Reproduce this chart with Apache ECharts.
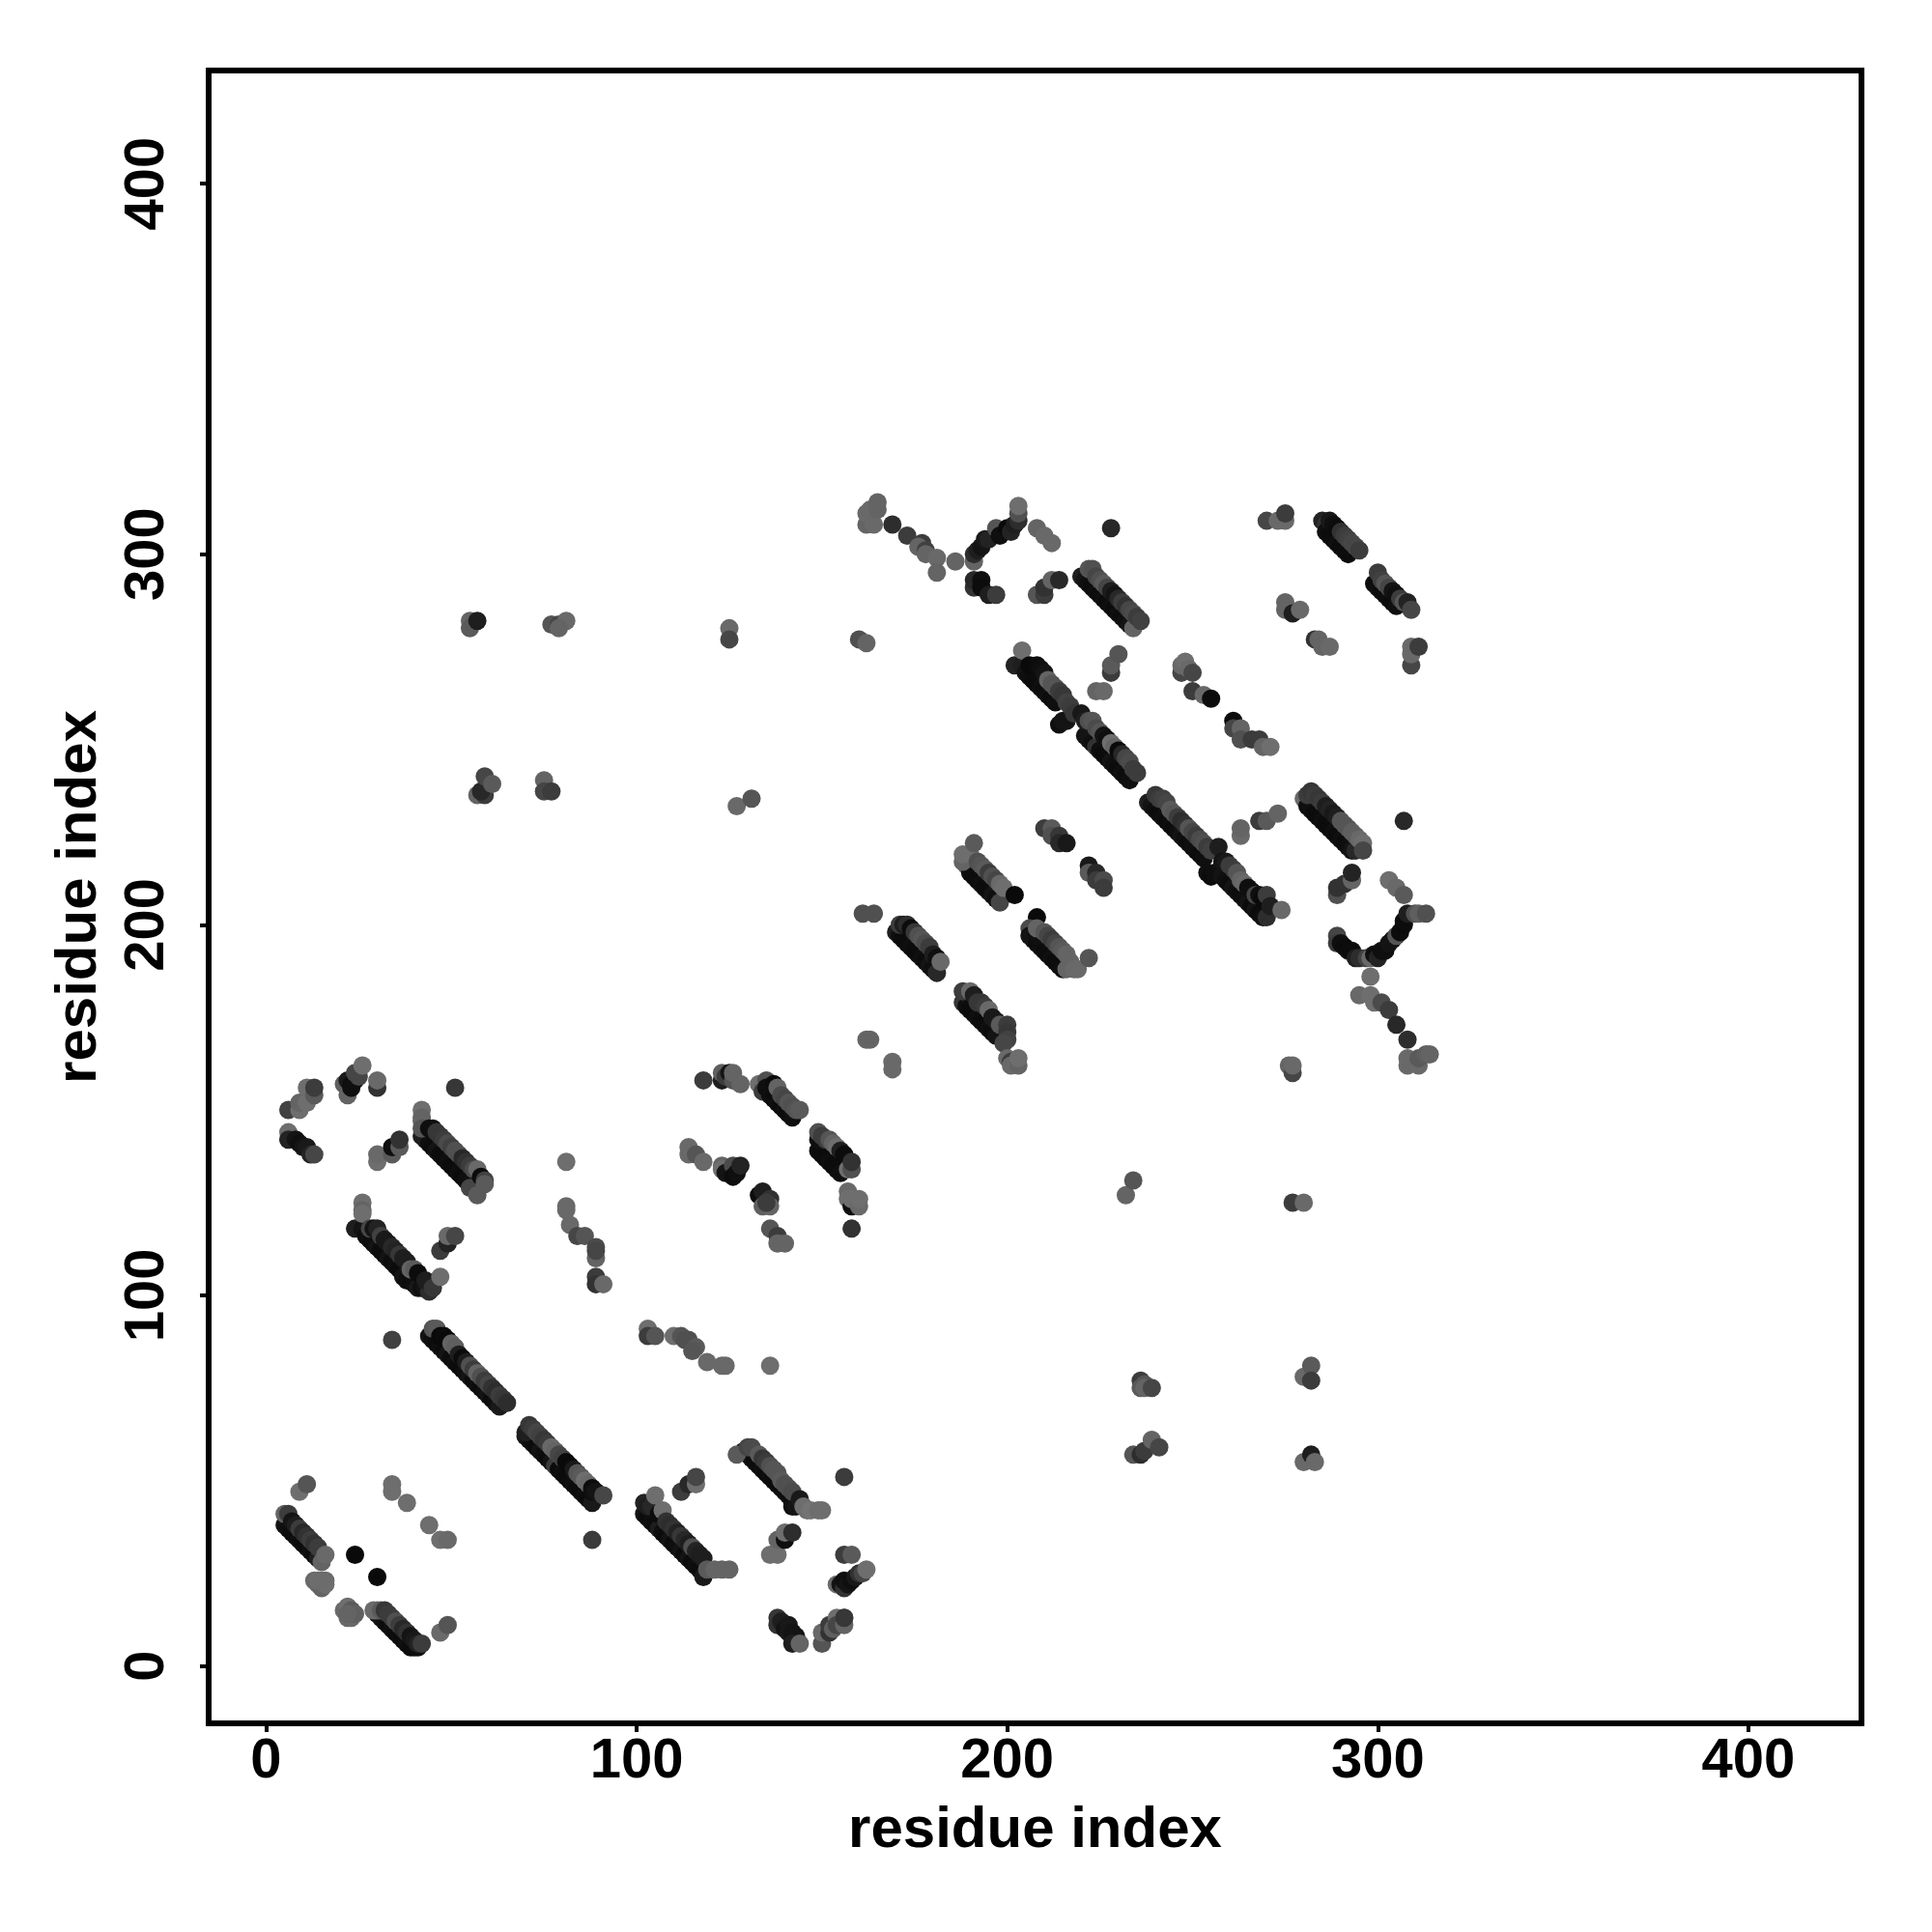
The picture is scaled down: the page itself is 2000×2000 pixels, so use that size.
<!DOCTYPE html>
<html>
<head>
<meta charset="utf-8">
<style>html,body{margin:0;padding:0;background:#fff}#c{width:2000px;height:2000px}</style>
<script src="https://cdn.jsdelivr.net/npm/echarts@6/dist/echarts.min.js"></script>
</head>
<body>
<div id="c"></div>
<script>
const tickValues = [0, 100, 200, 300, 400];
const axisTitle = "residue index";
// each contact: [residue i, residue j, grey level]
const bandA = [[5,38,20],[6,37,15],[7,36,12],[8,35,12],[9,34,15],[10,33,12],[11,32,12],[12,31,15],[13,30,12],[14,29,30],[5,41,100],[6,41,60],[7,39,20],[8,38,30],[9,37,60],[10,36,40],[11,35,50],[12,34,60],[13,33,50],[14,32,60],[15,28,100],[16,30,105]];
const blobA = [[9,47,110],[11,49,85],[13,23,105],[14,22,105],[15,21,100],[14,23,110],[16,23,105],[16,22,110],[15,23,108],[21,15,105],[22,16,110],[22,13,105],[23,13,105],[23,15,90],[24,14,95],[22,14,100],[24,30,10],[30,24,10]];
const bandB = [[30,14,15],[31,13,20],[32,12,15],[33,11,12],[34,10,15],[35,9,12],[36,8,12],[37,7,12],[38,6,15],[39,5,12],[40,5,12],[41,5,15],[29,15,105],[30,15,105],[31,15,90],[32,15,55],[33,14,60],[34,13,60],[35,12,80],[36,11,60],[37,10,40],[38,9,50],[39,8,20],[40,7,25],[41,6,35],[42,6,60],[47,9,105],[49,11,85]];
const dotsA = [[34,49,110],[34,47,110],[38,44,110],[44,38,110],[47,34,110],[49,34,105],[34,88,65]];
const bandC = [[44,89,20],[45,88,15],[46,87,12],[47,86,15],[48,85,12],[49,84,20],[50,83,12],[51,82,15],[52,81,12],[53,80,12],[54,79,15],[55,78,20],[56,77,12],[57,76,15],[58,75,12],[59,74,15],[60,73,20],[61,72,12],[62,71,15],[63,70,25],[45,91,85],[46,91,90],[47,89,10],[48,89,12],[49,88,10],[50,87,100],[51,86,95],[52,84,30],[53,83,12],[54,82,30],[55,81,80],[56,80,60],[57,79,100],[58,78,80],[59,77,60],[60,76,70],[61,75,50],[62,74,45],[63,73,60],[64,72,55],[65,71,45]];
const bandD = [[70,62,25],[71,61,20],[72,60,15],[73,59,12],[74,58,20],[75,57,15],[76,56,12],[77,55,20],[78,54,60],[79,53,12],[80,52,15],[81,51,12],[82,50,12],[83,49,15],[84,48,12],[85,47,12],[86,46,15],[87,45,12],[88,44,25],[70,63,30],[71,65,55],[72,64,60],[73,63,70],[74,62,65],[75,61,55],[76,60,60],[77,59,105],[78,58,100],[79,57,70],[80,56,65],[81,55,10],[82,54,10],[83,53,25],[84,52,85],[85,51,90],[86,50,110],[87,49,105],[88,48,12],[88,47,15],[89,47,20],[91,46,70],[88,34,60]];
const bandE = [[102,41,20],[103,40,12],[104,39,15],[105,38,12],[106,37,30],[107,36,15],[108,35,12],[109,34,20],[110,33,12],[111,32,15],[112,31,20],[113,30,12],[114,29,20],[115,28,12],[116,27,15],[117,26,12],[118,24,25],[102,44,35],[103,43,30],[104,43,40],[105,46,110],[106,41,12],[107,42,110],[108,39,50],[109,38,45],[110,37,50],[111,36,35],[112,35,55],[113,34,40],[114,33,30],[115,32,80],[116,31,35],[117,30,30],[118,29,30],[119,26,90],[121,26,100],[123,26,100],[125,26,100]];
const dotsE = [[112,47,60],[114,49,40],[116,49,110],[116,51,70],[103,91,110],[103,89,60],[105,89,85],[110,89,110],[112,89,85],[113,88,80],[114,88,80],[116,86,90],[115,85,85],[119,82,105],[123,81,105],[124,81,105],[136,81,110]];
const bandF = [[129,58,20],[130,57,12],[131,56,15],[132,55,12],[133,54,12],[134,53,15],[135,52,12],[136,51,15],[137,50,12],[138,49,12],[139,48,12],[140,47,15],[141,46,12],[142,44,12],[142,43,15],[143,43,20],[127,57,90],[130,59,70],[131,59,75],[133,57,90],[134,56,55],[135,55,60],[136,54,80],[137,53,85],[138,52,85],[139,50,90],[140,49,80],[141,48,80],[142,47,75],[144,45,25],[145,43,110],[146,42,110],[147,42,115],[149,42,110],[150,42,110],[156,51,60]];
const dotsG = [[136,30,110],[138,30,110],[138,34,100],[140,34,15],[140,36,110],[142,36,45],[138,13,55],[138,11,50],[139,12,30],[140,10,20],[141,11,25],[141,9,25],[142,9,20],[143,8,20],[142,6,30],[144,6,100],[150,6,85],[150,9,105],[152,9,50],[152,11,60],[153,10,95],[154,13,110],[154,11,70],[156,13,110],[156,11,100],[156,13,55]];
const bandH = [[154,22,105],[155,22,20],[156,21,50],[156,23,15],[157,22,20],[158,23,15],[159,24,25],[160,25,50],[161,25,70],[156,30,60],[158,30,90],[162,26,110]];
const clusterI = [[6,150,65],[9,150,110],[9,152,100],[11,152,110],[11,156,110],[13,154,90],[13,156,60],[6,144,110],[6,142,35],[8,142,20],[9,141,15],[10,140,20],[11,140,25],[12,138,35],[13,138,70],[30,136,110],[30,138,105],[34,138,90],[34,140,15],[36,140,90],[36,142,50]];
const clusterJ = [[21,157,95],[22,154,100],[22,158,25],[23,157,15],[24,158,12],[23,156,15],[24,160,70],[25,159,70],[26,162,110],[30,156,50],[30,158,105],[51,156,55]];
const bandK = [[42,143,30],[43,142,30],[44,141,15],[45,140,12],[46,139,20],[47,138,12],[48,137,12],[49,136,15],[50,135,12],[51,134,12],[52,133,15],[53,132,12],[54,131,15],[55,129,70],[42,150,110],[42,148,100],[42,147,100],[42,145,85],[44,145,15],[45,145,15],[46,144,55],[47,143,55],[48,142,60],[49,141,75],[50,140,65],[51,139,80],[52,138,80],[53,137,40],[54,136,50],[55,135,60],[56,134,75],[57,134,105],[57,127,90],[58,132,12],[59,131,65],[59,130,90]];
const bandL = [[24,118,30],[26,118,20],[27,116,15],[28,115,15],[29,114,15],[30,113,20],[31,112,12],[32,111,12],[33,110,20],[34,109,12],[35,108,15],[36,107,12],[37,105,20],[38,104,15],[39,104,12],[40,103,15],[41,102,25],[42,102,15],[43,102,20],[44,101,45],[26,125,110],[26,123,100],[26,122,110],[28,118,70],[29,118,20],[30,118,35],[31,116,65],[32,115,25],[33,114,25],[34,113,40],[35,112,35],[36,111,55],[37,110,30],[38,109,30],[39,107,100],[40,107,90],[41,106,12],[43,104,30],[45,102,55],[47,105,110],[47,112,60],[49,114,35],[49,116,105],[51,116,70]];
const dotsM = [[81,136,110],[81,124,105],[81,123,105],[82,119,105],[84,116,70],[86,116,85],[89,113,75],[89,110,100],[89,112,70],[89,105,60],[89,103,50],[91,103,105]];
const clusterN = [[118,158,60],[123,158,30],[123,160,95],[124,159,60],[125,160,20],[126,158,85],[126,160,100],[128,157,100],[133,157,110],[134,155,60],[135,158,80],[135,156,15],[136,154,15],[137,153,12],[137,157,12],[138,152,15],[138,156,100],[139,151,12],[140,150,15],[139,154,75],[141,149,12],[142,148,15],[140,153,70],[141,152,85],[142,151,80],[143,150,85],[144,150,90]];
const clusterO = [[149,139,12],[150,138,12],[151,137,12],[152,136,15],[153,135,12],[154,134,12],[155,133,15],[149,142,15],[149,144,80],[150,143,60],[151,142,60],[152,142,85],[153,141,100],[154,140,110],[155,139,30],[156,138,12],[157,134,110],[158,134,80],[158,136,50],[157,128,105],[157,126,110],[158,124,15],[158,126,110],[160,124,105],[160,126,110],[158,118,50]];
const clusterP = [[114,138,105],[114,140,105],[116,138,85],[118,136,105],[123,135,100],[123,134,110],[124,133,20],[126,135,75],[126,132,12],[127,133,15],[128,135,35],[133,127,12],[134,128,30],[136,126,50],[134,124,95],[136,124,100],[135,125,60],[136,118,85],[138,116,60],[138,114,100],[140,114,100]];
const clusterQ = [[162,169,100],[163,169,100],[169,163,105],[169,161,105],[161,203,80],[164,203,80],[170,198,30],[171,197,15],[172,196,12],[173,195,12],[174,194,15],[175,193,12],[176,192,12],[177,191,15],[178,190,12],[179,189,20],[180,188,15],[181,187,40],[171,200,60],[172,200,30],[173,200,45],[174,199,12],[175,198,55],[176,197,80],[177,196,85],[178,195,75],[179,194,60],[180,192,30],[181,191,15],[182,190,105]];
const clusterR = [[188,179,55],[189,178,15],[190,177,12],[191,176,12],[192,175,15],[193,174,12],[194,173,12],[195,172,15],[196,171,12],[197,170,20],[188,182,60],[190,182,105],[191,181,30],[192,179,55],[193,179,55],[194,178,60],[195,177,105],[196,175,25],[197,174,25],[198,173,90],[200,173,60],[200,171,55],[200,169,65],[199,168,70],[200,164,105],[201,163,60],[201,162,105],[203,162,100],[203,164,110]];
const clusterS = [[189,216,100],[190,214,15],[191,213,12],[192,212,12],[193,211,15],[194,210,12],[195,209,12],[196,208,20],[197,207,15],[198,206,70],[188,217,100],[188,219,110],[190,219,110],[191,222,90],[192,217,80],[193,216,85],[194,215,90],[195,214,60],[196,213,80],[197,212,70],[198,211,105],[199,210,110],[202,208,10],[210,226,60],[212,226,90],[212,224,80],[214,224,55],[214,222,40],[216,222,25],[222,216,25],[222,214,90],[224,214,40],[224,212,60],[226,212,75],[226,210,60]];
const clusterT = [[208,202,10],[206,199,75],[206,197,20],[207,196,20],[208,195,12],[209,194,15],[210,193,12],[211,192,12],[212,191,15],[213,190,12],[214,189,12],[215,188,15],[216,188,100],[208,197,15],[208,199,100],[210,198,85],[211,197,70],[212,196,60],[213,195,70],[214,194,85],[215,193,90],[216,192,100],[217,190,100],[218,188,105],[219,188,105],[222,191,85]];
const clusterU = [[162,308,100],[164,308,105],[162,311,105],[163,312,105],[165,312,100],[165,314,100],[169,308,45],[173,305,60],[177,303,60],[176,302,100],[178,301,65],[178,300,100],[181,299,105],[181,295,100],[186,298,100],[191,298,100],[191,300,45],[192,301,30],[193,302,20],[194,304,25],[195,304,35],[197,307,85],[198,305,15],[200,307,10],[201,306,35],[202,308,30],[203,309,45],[203,311,80],[203,313,110],[208,307,100],[210,305,105],[212,303,105]];
const clusterV = [[191,291,50],[191,293,40],[193,293,15],[193,291,12],[195,289,30],[197,289,60],[208,289,85],[210,289,60],[210,291,50],[212,293,100],[214,293,40]];
const bandW = [[220,294,30],[221,293,20],[222,292,15],[223,291,12],[224,290,15],[225,289,12],[226,288,15],[227,287,12],[228,286,15],[229,285,12],[230,284,15],[231,283,12],[232,282,15],[233,281,20],[234,280,100],[222,296,85],[223,296,80],[224,294,70],[225,293,80],[226,292,90],[227,291,70],[228,290,30],[229,289,20],[230,288,40],[231,287,60],[232,286,50],[233,285,70],[234,284,75],[235,283,60],[236,282,65],[228,268,60],[228,270,90],[230,273,85],[224,263,100],[226,263,105],[228,307,40]];
const bandX = [[202,270,35],[204,270,30],[205,268,20],[206,267,15],[207,266,12],[208,265,12],[209,264,15],[210,263,12],[211,262,15],[212,261,12],[213,260,15],[214,254,15],[215,255,20],[216,255,20],[204,274,110],[206,270,10],[208,270,12],[209,269,15],[210,268,20],[211,266,100],[212,265,85],[213,264,85],[214,263,60],[215,262,55],[216,260,65],[217,259,60],[218,257,55],[220,257,25],[221,251,20],[222,250,20],[223,249,15],[224,248,50],[225,247,15],[226,246,12],[227,245,12],[228,244,20],[229,243,15],[230,242,12],[231,241,15],[232,240,12],[233,239,15],[221,255,30],[222,255,80],[223,255,85],[224,253,75],[225,252,85],[226,251,20],[227,250,15],[228,249,110],[229,248,100],[230,247,10],[231,246,40],[232,245,70],[233,244,75],[234,242,60],[235,241,60]];
const clusterY = [[247,268,70],[247,270,105],[248,271,110],[249,269,105],[250,268,70],[250,263,60],[253,262,105],[255,261,12],[261,255,12],[261,253,70],[263,253,100],[263,250,80],[266,250,60],[268,250,60],[269,248,100],[271,248,110]];
const bandZ = [[238,233,30],[239,232,20],[240,231,15],[241,230,12],[242,229,15],[243,228,12],[244,227,15],[245,226,12],[246,225,15],[247,224,20],[248,223,15],[249,222,12],[250,221,15],[251,220,15],[252,219,12],[253,218,15],[254,214,15],[255,213,12],[256,214,15],[257,214,15],[258,213,20],[259,212,15],[260,211,12],[261,210,20],[262,209,15],[263,208,12],[264,207,15],[265,206,20],[266,205,12],[267,204,20],[268,203,12],[269,202,15],[270,202,45],[240,235,55],[241,234,60],[242,234,65],[243,233,70],[244,231,90],[245,230,85],[246,229,60],[247,228,45],[248,227,50],[249,226,85],[250,225,70],[251,224,60],[252,223,75],[253,222,80],[254,221,60],[255,220,65],[257,221,30],[258,217,20],[259,217,25],[260,216,60],[261,215,60],[262,214,85],[263,212,100],[264,211,105],[265,210,15],[266,209,15],[267,208,70],[268,208,15],[269,207,10],[270,208,60],[271,205,30],[274,204,105]];
const clusterAA = [[263,224,105],[263,226,100],[268,228,60],[270,228,90],[273,230,100],[270,309,70],[273,309,105],[275,309,105],[275,311,60],[275,285,100],[275,287,100],[277,284,30],[279,285,105],[283,277,50],[284,277,100],[285,275,100],[287,275,105],[309,270,70],[309,275,105],[309,273,105],[311,275,60],[307,228,40]];
const bandAB = [[280,234,105],[281,232,15],[282,231,15],[283,230,12],[284,229,12],[285,228,15],[286,227,12],[287,226,12],[288,225,15],[289,224,12],[290,223,15],[291,222,12],[292,221,15],[293,220,20],[294,220,40],[281,235,60],[282,236,55],[283,235,60],[284,234,55],[285,233,60],[286,232,30],[287,231,35],[288,230,25],[289,229,30],[290,228,85],[291,227,85],[292,226,85],[293,225,95],[294,224,95],[295,223,105],[296,222,110],[296,220,70]];
const clusterAC = [[289,197,70],[289,195,60],[290,195,15],[291,194,12],[292,193,12],[293,193,12],[294,191,30],[295,191,45],[297,191,65],[298,191,105],[299,192,15],[300,191,35],[301,193,15],[302,193,15],[303,195,20],[304,196,20],[305,197,85],[306,198,12],[307,200,10],[307,201,12],[308,203,30],[310,203,80],[311,203,95],[313,203,80],[303,212,110],[305,210,105],[307,208,90],[289,208,80],[289,210,50],[291,211,50],[293,212,100],[293,214,35]];
const clusterAD = [[298,186,110],[295,181,105],[298,181,110],[299,179,110],[301,179,75],[303,177,60],[305,173,40],[308,169,45],[308,162,105],[308,164,105],[311,162,105],[311,164,90],[313,165,95],[314,165,100],[276,162,100],[277,160,70],[277,162,105]];
const clusterAE = [[285,309,35],[286,308,50],[286,306,15],[287,305,12],[288,304,12],[289,303,15],[290,302,12],[291,301,12],[292,300,12],[287,309,25],[288,308,15],[289,307,12],[290,306,50],[291,305,60],[292,304,65],[293,303,70],[294,302,70],[295,301,60],[299,292,12],[300,295,60],[300,291,15],[301,290,12],[302,289,12],[303,288,15],[304,287,12],[305,286,15],[301,293,65],[302,292,85],[303,291,70],[304,290,20],[305,289,15],[306,288,60],[307,287,85],[308,287,35],[309,285,70]];
const dotsAF = [[55,282,100],[55,280,90],[57,282,30],[77,281,85],[79,281,70],[81,282,105],[79,280,100],[125,280,105],[125,277,70],[160,277,80],[162,276,100],[57,235,100],[59,235,60],[58,236,40],[59,240,70],[61,238,90],[75,239,100],[75,236,70],[77,236,60],[127,232,105],[131,234,85],[232,127,100],[234,131,85],[277,125,60],[280,125,105]];
const dotsAG = [[236,77,60],[236,75,90],[237,76,85],[237,75,100],[239,75,70],[234,57,85],[236,57,45],[237,58,60],[239,61,100],[241,59,70],[280,78,105],[282,81,90],[282,77,60],[280,55,105],[282,57,30],[283,55,105]];
const allContacts = [bandA,blobA,bandB,dotsA,bandC,bandD,bandE,dotsE,bandF,dotsG,bandH,clusterI,clusterJ,bandK,bandL,dotsM,clusterN,clusterO,clusterP,clusterQ,clusterR,clusterS,clusterT,clusterU,clusterV,bandW,bandX,clusterY,bandZ,clusterAA,bandAB,clusterAC,clusterAD,clusterAE,dotsAF,dotsAG];

const font = '"Liberation Sans", Arial, sans-serif';
const seriesData = allContacts.flat().map(p => ({
  value: [p[0], p[1]],
  itemStyle: { color: `rgb(${p[2]},${p[2]},${p[2]})`, opacity: 1 }
}));
function axis(extra) {
  return Object.assign({
    type: 'value', min: -15.5, max: 430.5,
    name: axisTitle, nameLocation: 'middle',
    nameTextStyle: { fontFamily: font, fontWeight: 'bold', fontSize: 60, color: '#000' },
    axisLine: { show: false, onZero: false },
    axisTick: { show: true, length: 9, inside: false, lineStyle: { color: '#000', width: 4 }, customValues: tickValues },
    splitLine: { show: false }
  }, extra);
}
const chart = echarts.init(document.getElementById('c'), null, { width: 2000, height: 2000, renderer: 'canvas' });
chart.setOption({
  animation: false,
  backgroundColor: '#fff',
  grid: { left: 216, right: 73, top: 73, bottom: 216, show: true, borderColor: '#000', borderWidth: 6, backgroundColor: 'transparent', containLabel: false },
  xAxis: axis({
    nameGap: 81,
    axisLabel: { customValues: tickValues, margin: 11, fontFamily: font, fontWeight: 'bold', fontSize: 58, color: '#000', showMinLabel: true, showMaxLabel: true, hideOverlap: false }
  }),
  yAxis: axis({
    nameGap: 104,
    axisLabel: { customValues: tickValues, rotate: 90, margin: 34, fontFamily: font, fontWeight: 'bold', fontSize: 58, color: '#000', showMinLabel: true, showMaxLabel: true, hideOverlap: false }
  }),
  series: [{
    type: 'scatter', symbol: 'circle', symbolSize: 19, data: seriesData,
    large: false, progressive: 0, itemStyle: { opacity: 1 }, emphasis: { disabled: true }
  }]
});
</script>
</body>
</html>
